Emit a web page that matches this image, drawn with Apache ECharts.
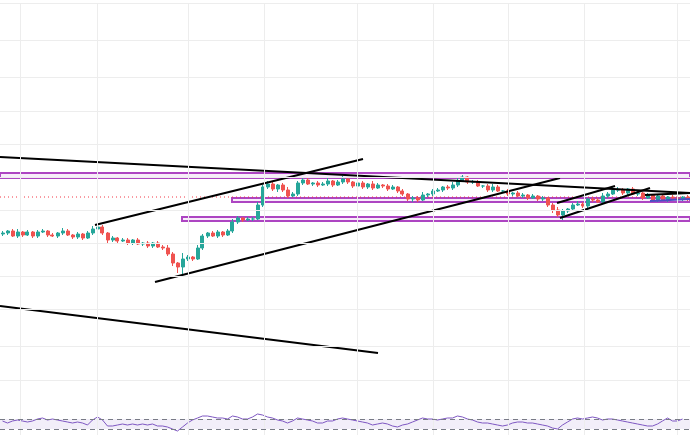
<!DOCTYPE html>
<html><head><meta charset="utf-8">
<script src="https://cdn.jsdelivr.net/npm/echarts@6/dist/echarts.min.js"></script>
<style>html,body{margin:0;padding:0;background:#fff}#c{width:690px;height:435px}</style>
</head><body><div id="c"></div><script>
// Price units (hidden scale). Closes per bar.
const closes = [
147,149,144,148,145,148,144,148,149,145,
144,147,149,145,143,146,142,147,151,153,
147,140,142,139,140,137,140,136,137,134,
137,133,132,126,117,113,121,123,121,132,
144,147,144,148,145,149,158,162,160,161,
161,175,193,196,191,195,190,184,186,197,
200,196,197,195,196,199,195,198,201,198,
194,197,193,196,192,195,194,191,193,189,
186,181,182,180,185,186,189,190,193,192,
195,199,203,198,198,194,194,190,193,189,
189,186,187,184,185,182,184,181,182,175,
170,165,169,171,175,176,174,181,180,178,
184,186,190,190,187,191,186,187,182,185,
180,184,180,183,182,181,183,181];
const wickUp = [
2,1,2,3,1,2,1,2,2,1, 2,1,3,2,1,2,1,2,3,3, 2,1,2,1,2,2,1,2,1,2,
1,2,2,3,2,1,6,2,1,3, 2,1,2,2,1,2,3,2,1,2, 2,3,2,3,2,1,2,3,2,2,
3,2,1,2,2,3,1,2,3,2, 1,2,2,1,3,2,1,2,2,1, 2,1,2,2,3,1,2,2,1,2,
3,3,2,1,2,2,1,2,3,2, 1,2,1,2,2,1,2,1,2,1, 2,3,2,1,2,3,2,1,2,2,
3,2,3,3,2,1,2,2,1,2, 1,2,2,1,2,2,1,2];
const wickDn = [
2,2,1,2,2,1,2,2,1,2, 1,2,2,1,2,2,2,1,2,1, 2,3,2,2,1,2,2,1,2,2,
2,1,2,2,3,6,7,2,2,1, 2,2,1,2,2,1,2,2,2,1, 2,1,2,2,2,3,2,2,1,2,
2,1,2,2,1,2,2,1,2,2, 2,1,2,2,2,1,2,2,1,2, 2,2,3,2,1,2,2,1,2,2,
2,2,1,2,2,1,2,2,2,1, 2,2,2,1,2,2,1,2,2,2, 3,2,5,2,2,1,2,2,2,1,
2,2,1,2,2,2,1,2,2,1, 2,2,1,2,2,1,2,2];
const rsi = [
14,12,14,15,14,13,14,16,17,15, 16,15,14,13,12,13,12,10,15,18,
15,9,9,10,11,10,11,10,11,10, 11,9,9,8,6,4,8,12,15,17,
19,19,18,17,17,16,19,18,16,16, 18,21,20,18,17,15,14,12,14,17,
16,15,14,12,12,14,14,16,17,16, 15,14,13,12,10,11,12,11,9,8,
10,11,13,15,17,16,16,15,16,17, 17,19,18,16,15,13,12,12,11,10,
9,10,12,13,13,12,12,11,10,9, 7,6,10,13,16,17,16,17,18,17,
15,16,16,15,14,13,12,11,10,9, 9,11,14,17,14,14,16,null];
const lastPrice = 183;
const rsiLevels = [16, 6];
// time grid positions (bar index units) and price grid levels
const gridX = [4, 19.4, 37.6, 52.8, 71.4, 86.6, 101.6, 116.8, 135.4];
const gridY = [377, 340, 303, 269, 236, 203, 170, 137, 104, 71, 34, 0];
// trend lines: [x1, p1, x2, p2]
const blackLines = [
  [0,223,138,187],
  [19,155,72.6,221],
  [31,98,112,202],
  [0,74,75.6,27],
  [111.4,177,123,194],
  [112,162,130,192],
  [129,185,138,187]
];
const blueLines = [[130,179,138,181]];
// rectangles: [x1, p1, x2, p2]
const rects = [
  [0,207,138,202],
  [46.4,182,138,178],
  [36.4,163,138,159]
];

const N = closes.length;
const categories = closes.map((_, i) => String(i));
const candleData = closes.map((c, i) => {
  const o = i === 0 ? closes[0] - 1 : closes[i - 1];
  return [o, c, Math.min(o, c) - wickDn[i], Math.max(o, c) + wickUp[i]];
});

const chart = echarts.init(document.getElementById('c'), null, {renderer: 'canvas'});
const gridColor = '#ededed';
const series = [
  {
    type: 'line', xAxisIndex: 1, yAxisIndex: 0, data: [], silent: true, z: 0,
    markLine: {
      silent: true, symbol: ['none', 'none'], label: {show: false}, animation: false,
      lineStyle: {color: gridColor, width: 1, type: 'solid'},
      data: gridX.map(x => ({xAxis: x})).concat(gridY.map(y => ({yAxis: y})))
    }
  },
  {
    type: 'line', xAxisIndex: 1, yAxisIndex: 0, silent: true, z: 1, symbol: 'none',
    data: [[0, lastPrice], [N, lastPrice]],
    color: '#f23645',
    lineStyle: {color: '#f23645', width: 1, type: [1, 3]}
  },
  {
    type: 'candlestick', xAxisIndex: 0, yAxisIndex: 0, data: candleData, barWidth: '70%', z: 2,
    itemStyle: {color: '#26a69a', color0: '#ef5350', borderColor: '#26a69a', borderColor0: '#ef5350', borderWidth: 1}
  },
  {
    type: 'line', xAxisIndex: 1, yAxisIndex: 0, data: [], silent: true, z: 3,
    markArea: {
      silent: true, animation: false,
      itemStyle: {color: 'rgba(186,80,206,0.10)', borderColor: '#ad45c2', borderWidth: 2},
      data: rects.map(r => [{coord: [r[0], r[1]]}, {coord: [r[2], r[3]]}])
    }
  }
];
blackLines.forEach(l => series.push({
  type: 'line', xAxisIndex: 1, yAxisIndex: 0, data: [[l[0], l[1]], [l[2], l[3]]],
  symbol: 'none', silent: true, z: 4, lineStyle: {color: '#000000', width: 2}
}));
blueLines.forEach(l => series.push({
  type: 'line', xAxisIndex: 1, yAxisIndex: 0, data: [[l[0], l[1]], [l[2], l[3]]],
  symbol: 'none', silent: true, z: 4, lineStyle: {color: '#4a4fc4', width: 2}
}));
series.push({
  type: 'line', xAxisIndex: 2, yAxisIndex: 1, data: [], silent: true, z: 0,
  markLine: {
    silent: true, symbol: ['none', 'none'], label: {show: false}, animation: false,
    lineStyle: {color: gridColor, width: 1, type: 'solid'},
    data: gridX.map(x => ({xAxis: x}))
  }
});
series.push({
  type: 'line', xAxisIndex: 2, yAxisIndex: 1, data: [], silent: true, z: 1,
  markArea: {
    silent: true, animation: false,
    itemStyle: {color: 'rgba(126,87,194,0.10)'},
    data: [[{yAxis: rsiLevels[0]}, {yAxis: rsiLevels[1]}]]
  },
  markLine: {
    silent: true, symbol: ['none', 'none'], label: {show: false}, animation: false,
    lineStyle: {color: '#787b86', width: 1, type: [5, 4]},
    data: rsiLevels.map(v => ({yAxis: v}))
  }
});
series.push({
  type: 'line', xAxisIndex: 2, yAxisIndex: 1, data: rsi.map((v, i) => [i + 0.5, v]),
  symbol: 'none', silent: true, z: 3, lineStyle: {color: '#7e57c2', width: 1}
});

chart.setOption({
  animation: false,
  backgroundColor: '#ffffff',
  grid: [
    {left: 0, right: 0, top: 3, height: 377},
    {left: 0, right: 0, top: 380, height: 55}
  ],
  xAxis: [
    {type: 'category', gridIndex: 0, data: categories, boundaryGap: true, show: false},
    {type: 'value', gridIndex: 0, min: 0, max: N, show: false},
    {type: 'value', gridIndex: 1, min: 0, max: N, show: false}
  ],
  yAxis: [
    {type: 'value', gridIndex: 0, min: 0, max: 377, show: false, splitLine: {show: false}},
    {type: 'value', gridIndex: 1, min: 0, max: 55, show: false, splitLine: {show: false}}
  ],
  series: series
});
</script></body></html>
